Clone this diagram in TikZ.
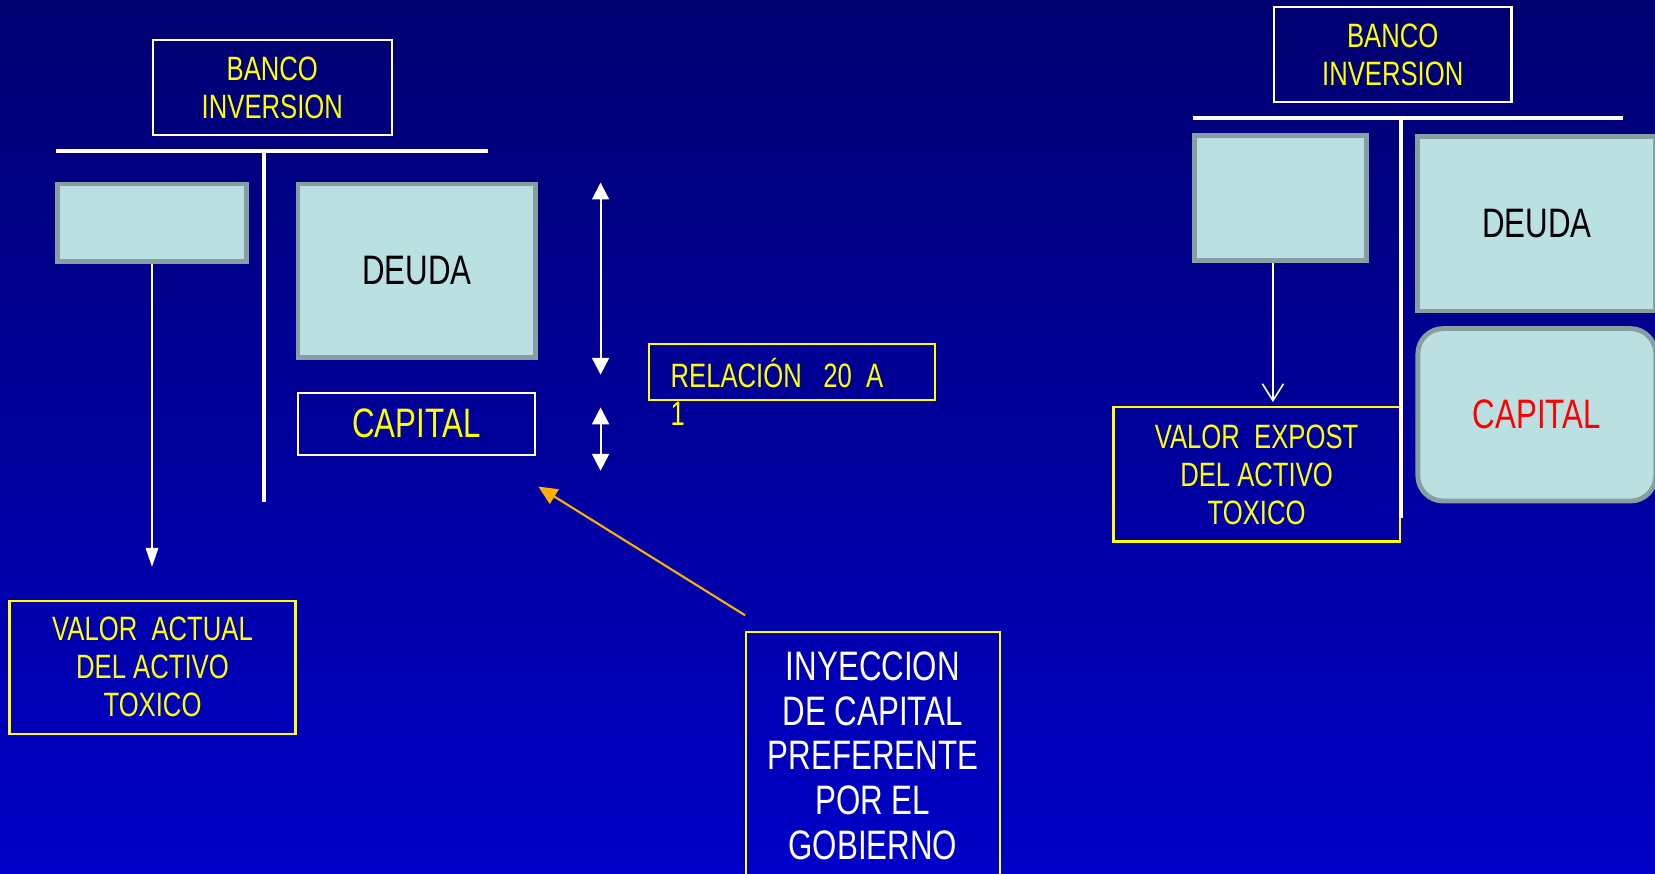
\documentclass[tikz,border=0pt]{standalone}
\usepackage{fontspec}
\setmainfont{Liberation Sans}[FakeStretch=0.76]
\usetikzlibrary{arrows.meta}
\definecolor{bgtop}{RGB}{0,0,112}
\definecolor{bgbot}{RGB}{0,0,200}
\definecolor{boxfill}{RGB}{187,224,226}
\definecolor{boxline}{RGB}{135,159,160}
\definecolor{ylw}{RGB}{255,255,0}
\definecolor{orng}{RGB}{255,176,0}
\definecolor{redtxt}{RGB}{255,0,0}
\begin{document}
\begin{tikzpicture}[x=0.5pt,y=-0.5pt,
  smalltxt/.style={font=\fontsize{16}{18}\selectfont, align=center},
  bigtxt/.style={font=\fontsize{19.5}{21.25}\selectfont, align=center},
  whitebox/.style={draw=white, line width=1pt, inner sep=0pt},
  ylwbox/.style={draw=ylw, line width=1pt, inner sep=0pt},
  solidbox/.style={fill=boxfill, draw=boxline, line width=2.3pt, inner sep=0pt},
  barline/.style={white, line width=2pt},
  dimarrow/.style={white, line width=1pt, {Triangle[width=8pt,length=8pt]}-{Triangle[width=8pt,length=8pt]}},
  downarrow/.style={white, line width=0.75pt, -{Triangle[width=6pt,length=9pt]}},
  openarrow/.style={white, line width=0.75pt, -{Straight Barb[width=10pt,length=8pt]}},
  injarrow/.style={orng, line width=1pt, -{Triangle[width=8pt,length=9pt]}}
]
\fill[top color=bgtop,bottom color=bgbot] (0,0) rectangle (1568,828);
\clip (0,0) rectangle (1568,828);

% ---------- left diagram ----------
\node[whitebox, minimum width=113pt, minimum height=45pt, smalltxt, text=ylw] (bank1) at (258,83) {BANCO\\INVERSION};
\coordinate (h1l) at (53,143); \coordinate (h1r) at (462,143);
\coordinate (v1t) at (250,143); \coordinate (v1b) at (250,476);
\draw[barline] (h1l) -- (h1r);
\draw[barline] (v1t) -- (v1b);

\node[solidbox, minimum width=89.7pt, minimum height=36.7pt] (asset1) at (144,211) {};
\node[solidbox, minimum width=112.7pt, minimum height=82.2pt, bigtxt, text=black] (deuda1) at (395,256.5) {DEUDA};
\node[whitebox, minimum width=112.5pt, minimum height=29.5pt, bigtxt, text=ylw] (cap1) at (394.5,401.5) {CAPITAL};

\coordinate (d1t) at (569,173); \coordinate (d1b) at (569,355);
\draw[dimarrow] (d1t) -- (d1b);
\coordinate (d2t) at (569,386); \coordinate (d2b) at (569,446);
\draw[dimarrow] (d2t) -- (d2b);

\node[ylwbox, minimum width=135.5pt, minimum height=26.5pt] (rel) at (750.5,352.5) {};
\node[anchor=north west, inner sep=0pt, smalltxt, align=left, text=ylw] (reltxt) at (635,339) {RELACIÓN\ \ \ 20\ \ A\\1};

\node[ylwbox, minimum width=135.5pt, minimum height=63pt, smalltxt, text=ylw] (valor1) at (144.5,632) {VALOR\ \ ACTUAL\\DEL ACTIVO\\TOXICO};
\coordinate (a1e) at (144,537);
\draw[downarrow] (asset1.south) -- (a1e);

\node[ylwbox, minimum width=120pt, minimum height=117pt, bigtxt, text=white] (inj) at (827,716) {INYECCION\\DE CAPITAL\\PREFERENTE\\POR EL\\GOBIERNO};
\coordinate (o1s) at (706,583); \coordinate (o1e) at (510,461);
\draw[injarrow] (o1s) -- (o1e);

% ---------- right diagram ----------
\node[whitebox, minimum width=112.5pt, minimum height=45pt, smalltxt, text=ylw] (bank2) at (1319.5,52) {BANCO\\INVERSION};
\coordinate (h2l) at (1130,112); \coordinate (h2r) at (1538,112);
\coordinate (v2t) at (1327,112); \coordinate (v2b) at (1327,491);
\draw[barline] (h2l) -- (h2r);

\node[solidbox, minimum width=81.7pt, minimum height=59.2pt] (asset2) at (1213,187.5) {};
\node[solidbox, minimum width=112.7pt, minimum height=82.7pt, bigtxt, text=black] (deuda2) at (1456,212) {DEUDA};
\node[solidbox, rounded corners=12pt, minimum width=112.7pt, minimum height=81.7pt, bigtxt, text=redtxt] (cap2) at (1456,393) {CAPITAL};

\node[ylwbox, minimum width=135.5pt, minimum height=63.5pt, smalltxt, text=ylw] (valor2) at (1190.5,449.5) {VALOR\ \ EXPOST\\DEL ACTIVO\\TOXICO};
\draw[barline] (v2t) -- (v2b);
\coordinate (a2e) at (1206,381);
\draw[openarrow] (a2e |- asset2.south) -- (a2e);
\end{tikzpicture}
\end{document}
